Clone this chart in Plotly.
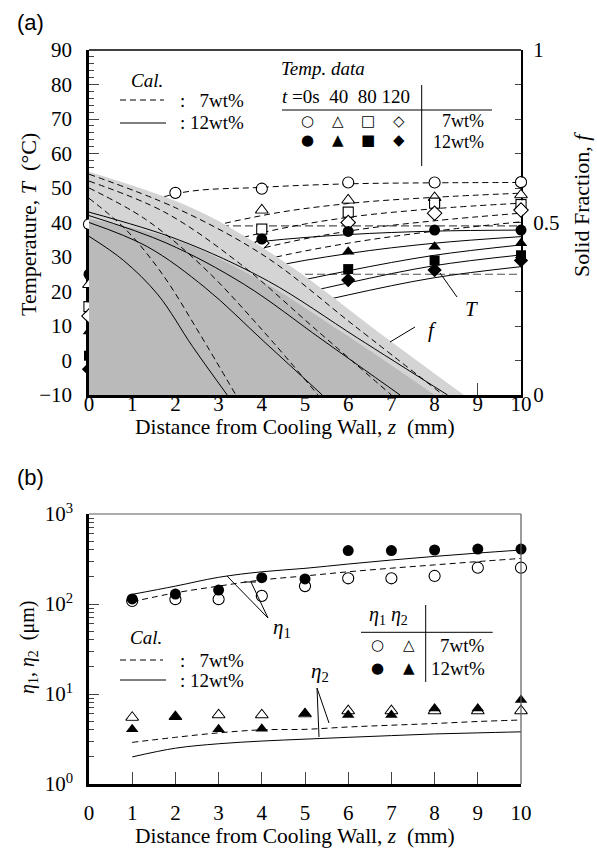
import plotly.graph_objects as go

# ---------------- Panel (a) data ----------------
z_meas = [0, 2, 4, 6, 8, 10]
# 7wt% measured temperatures (open markers)
T7_t0 = [39.5, 48.6, 49.8, 51.6, 51.6, 51.7]
T7_t40 = [22.0, 37.2, 43.6, 46.5, 47.2, 48.0]
T7_t80 = [15.6, 30.4, 38.1, 43.0, 45.6, 45.2]
T7_t120 = [12.9, 26.5, 34.0, 40.0, 42.7, 43.6]
# 12wt% measured temperatures (filled markers)
T12_t0 = [25.0, 31.7, 35.2, 37.4, 37.8, 37.8]
T12_t40 = [8.4, 18.7, 26.5, 31.5, 33.0, 34.0]
T12_t80 = [1.4, 12.3, 20.7, 26.5, 29.0, 30.5]
T12_t120 = [-2.5, 8.7, 17.0, 23.3, 26.2, 29.0]

# calculated temperature profiles
z_cal = [0, 2, 4, 6, 8, 10]
Tc7 = [
    [39.0, 48.3, 50.2, 51.2, 51.5, 51.6],
    [22.0, 35.5, 42.0, 45.5, 47.3, 48.5],
    [15.6, 29.5, 37.0, 41.5, 44.0, 45.6],
    [12.5, 25.0, 32.5, 37.5, 40.5, 42.7],
    [10.0, 21.5, 29.0, 34.0, 37.5, 40.2],
]
Tc12 = [
    [25.0, 31.0, 34.5, 36.5, 37.5, 37.8],
    [8.4, 19.0, 26.5, 31.0, 34.0, 35.9],
    [1.5, 12.5, 20.5, 26.0, 30.5, 33.5],
    [-2.5, 8.5, 16.5, 22.5, 27.5, 30.6],
    [-5.0, 5.5, 13.0, 19.0, 24.0, 27.2],
]
T_liq7 = 39.0
T_liq12 = 25.0

# calculated solid fraction profiles (right axis)
fd = [
    ([0, 0.85, 1.7, 2.55, 3.4], [0.57, 0.48, 0.35, 0.18, 0.0]),
    ([0, 1.3, 2.65, 4.0, 5.3], [0.60, 0.51, 0.37, 0.19, 0.0]),
    ([0, 1.75, 3.5, 5.25, 7.0], [0.62, 0.53, 0.38, 0.19, 0.0]),
    ([0, 2.05, 4.1, 6.15, 8.2], [0.64, 0.54, 0.40, 0.20, 0.0]),
]
fs = [
    ([0, 0.8, 1.6, 2.4, 3.2], [0.46, 0.39, 0.29, 0.14, 0.0]),
    ([0, 1.35, 2.7, 4.05, 5.4], [0.50, 0.43, 0.31, 0.155, 0.0]),
    ([0, 1.8, 3.6, 5.4, 7.2], [0.52, 0.44, 0.32, 0.16, 0.0]),
    ([0, 2.07, 4.15, 6.22, 8.3], [0.53, 0.45, 0.33, 0.165, 0.0]),
]
zA = [0, 1.95, 3.16, 4.9, 6.64, 8.68]
fA = [0.647, 0.565, 0.493, 0.353, 0.188, 0.0]
zB = [0, 2.0, 4.0, 6.0, 8.0]
fB = [0.51, 0.45, 0.33, 0.17, 0.0]

# ---------------- Panel (b) data ----------------
zb = [1, 2, 3, 4, 5, 6, 7, 8, 9, 10]
eta1_7 = [108, 113, 113, 123, 158, 193, 193, 205, 253, 253]
eta1_12 = [114, 129, 143, 196, 190, 392, 392, 398, 408, 408]
eta2_7 = [5.5, 5.6, 5.85, 5.85, 6.0, 6.5, 6.5, 6.5, 6.5, 6.5]
eta2_12 = [4.05, 5.6, 4.05, 4.1, 6.1, 5.85, 5.85, 6.9, 6.9, 8.6]
zb_cal = [1, 2, 3, 4, 5, 6, 7, 8, 9, 10]
eta1_cal7 = [106, 133, 158, 185, 205, 228, 250, 272, 296, 321]
eta1_cal12 = [128, 158, 198, 228, 249, 278, 308, 338, 368, 398]
eta2_cal7 = [2.9, 3.3, 3.7, 4.0, 4.05, 4.3, 4.5, 4.7, 4.95, 5.14]
eta2_cal12 = [2.0, 2.5, 2.8, 3.0, 3.15, 3.3, 3.45, 3.6, 3.7, 3.8]
log_minor = [m * d for d in (1, 10, 100) for m in range(2, 10)]

SERIF = "Liberation Serif, Times New Roman, Times, DejaVu Serif, serif"
SANS = "Liberation Sans, Arial, Helvetica, sans-serif"
SYM = "DejaVu Sans"
W, H = 597, 852
L, R, T, B = 89, 76, 50, 68
PW, PH = W - L - R, H - T - B


def px(x):
    return (x - L) / PW


def py(y):
    return (H - B - y) / PH


fig = go.Figure()
LIGHT = "rgb(212,212,212)"
DARK = "rgb(186,186,186)"

# shaded regions
fig.add_trace(go.Scatter(x=zA, y=fA, mode="lines", line=dict(color="rgba(0,0,0,0)", shape="spline"),
                         fill="tozeroy", fillcolor=LIGHT, xaxis="x", yaxis="y2", showlegend=False))
fig.add_trace(go.Scatter(x=zB, y=fB, mode="lines", line=dict(color="rgba(0,0,0,0)", shape="spline"),
                         fill="tozeroy", fillcolor=DARK, xaxis="x", yaxis="y2", showlegend=False))

# f lines
for zz, ff in fd:
    fig.add_trace(go.Scatter(x=zz, y=ff, mode="lines", line=dict(color="black", width=1, dash="6px,4px", shape="spline"),
                             xaxis="x", yaxis="y2", showlegend=False))
for zz, ff in fs:
    fig.add_trace(go.Scatter(x=zz, y=ff, mode="lines", line=dict(color="black", width=1, shape="spline"),
                             xaxis="x", yaxis="y2", showlegend=False))

# liquidus lines
for tl in (T_liq7, T_liq12):
    fig.add_trace(go.Scatter(x=[0, 10], y=[tl, tl], mode="lines",
                             line=dict(color="rgb(80,80,80)", width=1.2, dash="8px,4px"),
                             xaxis="x", yaxis="y", showlegend=False))

# calculated T profiles
for prof in Tc7:
    fig.add_trace(go.Scatter(x=z_cal, y=prof, mode="lines", line=dict(color="black", width=1, dash="6px,4px", shape="spline"),
                             xaxis="x", yaxis="y", showlegend=False))
for prof in Tc12:
    fig.add_trace(go.Scatter(x=z_cal, y=prof, mode="lines", line=dict(color="black", width=1, shape="spline"),
                             xaxis="x", yaxis="y", showlegend=False))

# measured markers
sym = ["circle", "triangle-up", "square", "diamond"]
sizes = [11, 11, 10, 11]
for s, sz, d in zip(sym, sizes, [T7_t0, T7_t40, T7_t80, T7_t120]):
    fig.add_trace(go.Scatter(x=z_meas, y=d, mode="markers",
                             marker=dict(symbol=s + "-open", size=sz, color="black", line=dict(width=1.2)),
                             xaxis="x", yaxis="y", showlegend=False, cliponaxis=False))
    fig.add_trace(go.Scatter(x=z_meas, y=d, mode="markers",
                             marker=dict(symbol=s, size=sz - 1.5, color="white", line=dict(width=0)),
                             xaxis="x", yaxis="y", showlegend=False, cliponaxis=False))
for s, sz, d in zip(sym, sizes, [T12_t0, T12_t40, T12_t80, T12_t120]):
    fig.add_trace(go.Scatter(x=z_meas, y=d, mode="markers",
                             marker=dict(symbol=s, size=sz, color="black", line=dict(width=0)),
                             xaxis="x", yaxis="y", showlegend=False, cliponaxis=False))

# panel (b) calc lines
fig.add_trace(go.Scatter(x=zb_cal, y=eta1_cal7, mode="lines", line=dict(color="black", width=1, dash="6px,4px", shape="spline"),
                         xaxis="x2", yaxis="y3", showlegend=False))
fig.add_trace(go.Scatter(x=zb_cal, y=eta1_cal12, mode="lines", line=dict(color="black", width=1, shape="spline"),
                         xaxis="x2", yaxis="y3", showlegend=False))
fig.add_trace(go.Scatter(x=zb_cal, y=eta2_cal7, mode="lines", line=dict(color="black", width=1, dash="6px,4px", shape="spline"),
                         xaxis="x2", yaxis="y3", showlegend=False))
fig.add_trace(go.Scatter(x=zb_cal, y=eta2_cal12, mode="lines", line=dict(color="black", width=1, shape="spline"),
                         xaxis="x2", yaxis="y3", showlegend=False))
# panel (b) markers
for s, d in (("circle", eta1_7), ("triangle-up", eta2_7)):
    fig.add_trace(go.Scatter(x=zb, y=d, mode="markers",
                             marker=dict(symbol=s + "-open", size=11, color="black", line=dict(width=1.2)),
                             xaxis="x2", yaxis="y3", showlegend=False, cliponaxis=False))
    fig.add_trace(go.Scatter(x=zb, y=d, mode="markers",
                             marker=dict(symbol=s, size=9.5, color="white", line=dict(width=0)),
                             xaxis="x2", yaxis="y3", showlegend=False, cliponaxis=False))
for s, d in (("circle", eta1_12), ("triangle-up", eta2_12)):
    fig.add_trace(go.Scatter(x=zb, y=d, mode="markers",
                             marker=dict(symbol=s, size=11, color="black", line=dict(width=0)),
                             xaxis="x2", yaxis="y3", showlegend=False, cliponaxis=False))

tickfont = dict(family=SERIF, size=21, color="black")
ya_top, ya_bot = py(50), py(395)
yb_top, yb_bot = py(514), py(784)

fig.update_layout(
    width=W, height=H, margin=dict(l=L, r=R, t=T, b=B),
    paper_bgcolor="white", plot_bgcolor="rgba(0,0,0,0)",
    font=dict(family=SERIF, size=19, color="black"),
    xaxis=dict(domain=[0, 1], anchor="y", range=[0, 10], dtick=1, ticks="inside", ticklen=12, tickwidth=1,
               showline=True, linewidth=2.5, linecolor="black", showgrid=False, zeroline=False,
               tickfont=tickfont, layer="below traces", ticklabelstandoff=-12),
    yaxis=dict(domain=[ya_bot, ya_top], anchor="x", range=[-10, 90], dtick=10, ticks="inside", ticklen=10,
               tickwidth=1, showline=True, linewidth=2.5, linecolor="black", showgrid=False, zeroline=False,
               tickfont=tickfont, layer="below traces", ticklabelstandoff=10,
               minor=dict(ticks="inside", dtick=2, ticklen=5, tickwidth=1, showgrid=False)),
    yaxis2=dict(overlaying="y", anchor="x", side="right", range=[0, 1], tickvals=[0, 0.5, 1],
                ticktext=["0", "0.5", "1"], ticks="inside", ticklen=6, tickwidth=1, showline=True, linewidth=2,
                linecolor="black", showgrid=False, zeroline=False, tickfont=tickfont, layer="below traces",
                ticklabelstandoff=6,
                minor=dict(ticks="inside", dtick=0.1, ticklen=6, tickwidth=1, showgrid=False)),
    xaxis2=dict(domain=[0, 1], anchor="y3", range=[0, 10], dtick=1, ticks="inside", ticklen=12, tickwidth=1,
                showline=True, linewidth=2.5, linecolor="black", showgrid=False, zeroline=False,
                tickfont=tickfont, layer="below traces", ticklabelstandoff=8),
    yaxis3=dict(domain=[yb_bot, yb_top], anchor="x2", type="log", range=[0, 3],
                tickvals=[1, 10, 100, 1000],
                ticktext=["10<sup>0</sup>", "10<sup>1</sup>", "10<sup>2</sup>", "10<sup>3</sup>"],
                ticks="inside", ticklen=10, tickwidth=1, showline=True, linewidth=2.5, linecolor="black",
                showgrid=False, zeroline=False, tickfont=tickfont, layer="below traces", ticklabelstandoff=9,
                minor=dict(tickmode="array", tickvals=log_minor, ticks="inside", ticklen=5, tickwidth=1,
                           showgrid=False)),
)

shapes = []
# frame top lines
shapes.append(dict(type="line", xref="paper", yref="paper", x0=0, x1=1, y0=ya_top, y1=ya_top,
                   line=dict(color="black", width=1.3)))
shapes.append(dict(type="line", xref="paper", yref="paper", x0=0, x1=1, y0=yb_top, y1=yb_top,
                   line=dict(color="rgb(90,90,90)", width=1.2)))
shapes.append(dict(type="line", xref="paper", yref="paper", x0=1, x1=1, y0=yb_bot, y1=yb_top,
                   line=dict(color="rgb(90,90,90)", width=1.2)))


def seg(x0, y0, x1, y1, dash=None, w=1.0):
    d = dict(type="line", xref="paper", yref="paper", x0=px(x0), y0=py(y0), x1=px(x1), y1=py(y1),
             line=dict(color="black", width=w))
    if dash:
        d["line"]["dash"] = dash
    shapes.append(d)


annotations = []


def txt(x, y, s, size=19, xanchor="center", family=SERIF, angle=0):
    annotations.append(dict(x=px(x), y=py(y), xref="paper", yref="paper", text=s, showarrow=False,
                            xanchor=xanchor, yanchor="middle", textangle=angle,
                            font=dict(family=family, size=size, color="black")))


# panel labels
txt(30, 22, "(a)", size=22, family=SANS)
txt(30, 477, "(b)", size=22, family=SANS)

# axis titles
txt(28, 225, "Temperature, <i>T</i>  (°C)", size=22, angle=-90)
txt(582, 205, "Solid Fraction, <i>f</i>", size=22, angle=-90)
txt(295, 427, "Distance from Cooling Wall, <i>z</i>  (mm)", size=21.5)
txt(295, 836, "Distance from Cooling Wall, <i>z</i>  (mm)", size=21.5)
txt(28, 648, "<i>η</i><sub>1</sub>, <i>η</i><sub>2</sub>  (μm)", size=20, angle=-90)

# Cal. legend (a)
txt(147, 80, "<i>Cal.</i>", size=19)
seg(120, 100, 164, 100, dash="6px,4px")
txt(178, 100, ":   7wt%", size=19, xanchor="left")
seg(120, 123, 166, 123)
txt(178, 123, ": 12wt%", size=19, xanchor="left")

# Temp. data table (a)
txt(279, 68, "<i>Temp. data</i>", size=19, xanchor="left")
txt(280, 96, "<i>t</i> =0s  40  80 120", size=19, xanchor="left")
seg(421.7, 85, 421.7, 166)
seg(282, 110, 492, 110)
sym_x = [307.7, 337.7, 368, 399]
for xx, g in zip(sym_x, ["○", "△", "□", "◇"]):
    txt(xx, 121.5, g, size=15, family=SYM)
for xx, g in zip(sym_x, ["●", "▲", "■", "◆"]):
    txt(xx, 140.5, g, size=15, family=SYM)
txt(486, 120.5, "7wt%", size=18, xanchor="right")
txt(486, 141.5, "12wt%", size=18, xanchor="right")

# T and f pointers
txt(471, 309, "<i>T</i>", size=21)
seg(457, 297, 440, 273)
txt(432, 330, "<i>f</i>", size=21)
seg(415, 327, 390, 342)

# Cal. legend (b)
txt(146, 637, "<i>Cal.</i>", size=19)
seg(120, 660, 163, 660, dash="6px,4px")
txt(178, 660, ":   7wt%", size=19, xanchor="left")
seg(120, 680, 166, 680)
txt(178, 680, ": 12wt%", size=19, xanchor="left")

# eta table (b)
txt(388, 615, "<i>η</i><sub>1</sub> <i>η</i><sub>2</sub>", size=20)
seg(425.7, 605, 425.7, 682)
seg(361, 632.3, 492.7, 632.3)
txt(377.7, 645, "○", size=15, family=SYM)
txt(409.3, 645, "△", size=15, family=SYM)
txt(377.7, 668, "●", size=15, family=SYM)
txt(409.3, 668, "▲", size=15, family=SYM)
txt(487, 645, "7wt%", size=19, xanchor="right")
txt(487, 668, "12wt%", size=19, xanchor="right")

# eta pointers
txt(282, 628, "<i>η</i><sub>1</sub>", size=21)
seg(268, 618, 227, 576)
seg(268, 618, 251, 582)
seg(244, 582, 256, 582)
txt(320, 672, "<i>η</i><sub>2</sub>", size=21)
seg(317, 688, 329, 723)
seg(317, 688, 319, 737)

fig.update_layout(shapes=shapes, annotations=annotations)
fig.write_html("out.html", config={"displayModeBar": False},
               post_script="document.body.style.margin='0px';")
